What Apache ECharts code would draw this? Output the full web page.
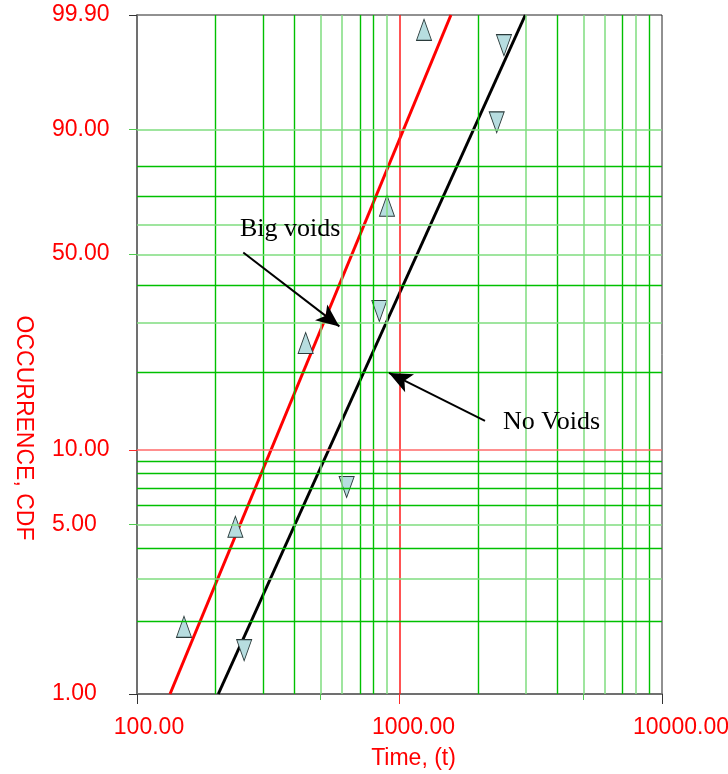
<!DOCTYPE html>
<html><head><meta charset="utf-8">
<script src="https://cdn.jsdelivr.net/npm/echarts@6/dist/echarts.min.js"></script>
<style>html,body{margin:0;padding:0;background:#fff}#c{width:728px;height:774px}</style>
</head><body><div id="c"></div>
<script>
// ---- data (time in hours, occurrence CDF in %) ----
const bigVoidsTime = [151, 237, 439, 896, 1240];
const bigVoidsCdf  = [1.9, 4.9, 25.5, 66.8, 99.75];
const noVoidsTime  = [256, 629, 838, 2346, 2500];
const noVoidsCdf   = [1.52, 7.1, 33.0, 91.46, 99.43];
const bigFitTime = [133.6, 1570];
const bigFitCdf  = [1.0, 99.9];
const noFitTime  = [204, 3015];
const noFitCdf   = [1.0, 99.9];
const xTickLabels = [100, 1000, 10000];
const yTickLabels = [1, 5, 10, 50, 90, 99.9];
const xGridValues = [200, 300, 400, 500, 600, 700, 800, 900, 1000, 2000, 3000, 4000, 5000, 6000, 7000, 8000, 9000];
const yGridValues = [2, 3, 4, 5, 6, 7, 8, 9, 10, 20, 30, 40, 50, 60, 70, 80, 90];
const annotationText = ['Big voids', 'No Voids'];
const bigArrowTime = [254, 590];
const bigArrowCdf  = [50.5, 29.2];
const noArrowTime  = [2117, 912];
const noArrowCdf   = [13.0, 19.8];

// ---- scales: log time, Weibull probability ----
const tx = t => Math.log10(t);
const fy = p => Math.log(-Math.log(1 - p / 100));
const xMin = tx(xTickLabels[0]), xMax = tx(xTickLabels[xTickLabels.length - 1]);
const yMin = fy(yTickLabels[0]), yMax = fy(yTickLabels[yTickLabels.length - 1]);

const FONT = '"Liberation Sans", Arial, sans-serif';
const SERIF = '"Liberation Serif", "Times New Roman", serif';
const RED = '#ff0000';
const DARK_G = '#00c000', LIGHT_G = '#7fdc7f';
const lightX = new Set([500, 600, 900, 3000, 5000, 6000, 8000]);
const lightY = new Set([90, 60, 50, 30, 5, 3]);

const gridLines = [];
xGridValues.forEach(v => {
  const isRed = v === 1000;
  gridLines.push({ xAxis: tx(v), lineStyle: { color: isRed ? '#ff1a1a' : (lightX.has(v) ? LIGHT_G : DARK_G), width: isRed ? 1.5 : (lightX.has(v) ? 1.5 : 1.4), type: 'solid' } });
});
yGridValues.forEach(v => {
  const isRed = v === 10;
  gridLines.push({ yAxis: fy(v), lineStyle: { color: isRed ? '#ff6a6a' : (lightY.has(v) ? LIGHT_G : DARK_G), width: isRed ? 1.5 : (lightY.has(v) ? 1.5 : 1.4), type: 'solid' } });
});

const xPads = [24, 28, 38];
const xRich = {};
xPads.forEach((p, i) => { xRich['p' + i] = { padding: [0, 0, 0, p], fontSize: 23, fontFamily: FONT, color: RED }; });

function axisCommon(extra) {
  return Object.assign({
    type: 'value', splitLine: { show: false },
    axisLine: { show: false, onZero: false },
    axisLabel: { show: false }, axisTick: { show: false }
  }, extra);
}

const xAxes = [
  axisCommon({
    min: xMin, max: xMax, position: 'bottom',
    axisLine: { show: true, onZero: false, lineStyle: { color: '#707070', width: 2 } },
    axisTick: { show: true, customValues: [xMin, xMax], length: 10, inside: false, lineStyle: { color: '#333', width: 1 } },
    axisLabel: {
      show: true, customValues: xTickLabels.map(tx), margin: 22,
      formatter: v => { const t = Math.round(Math.pow(10, v)); const i = xTickLabels.indexOf(t); return '{p' + i + '|' + t.toFixed(2) + '}'; },
      rich: xRich, fontSize: 23, fontFamily: FONT, color: RED
    },
    name: 'Time, (t)', nameLocation: 'middle', nameGap: 53,
    nameTextStyle: { color: RED, fontSize: 23, fontFamily: FONT, padding: [0, 0, 0, 28] }
  }),
  axisCommon({ min: xMin, max: xMax, position: 'bottom',
    axisTick: { show: true, customValues: [tx(500), tx(5000)], length: 6, lineStyle: { color: '#50cc50', width: 1 } } }),
  axisCommon({ min: xMin, max: xMax, position: 'bottom',
    axisTick: { show: true, customValues: [tx(1000)], length: 10, lineStyle: { color: '#ff2a2a', width: 1 } } })
];

const yAxes = [
  axisCommon({
    min: yMin, max: yMax, position: 'left',
    axisLine: { show: true, onZero: false, lineStyle: { color: '#707070', width: 2 } },
    axisTick: { show: true, customValues: [yMin, yMax], length: 8, lineStyle: { color: '#333', width: 1 } },
    axisLabel: {
      show: true, customValues: yTickLabels.map(fy), align: 'left', margin: 85,
      formatter: v => (100 * (1 - Math.exp(-Math.exp(v)))).toFixed(2),
      fontSize: 23, fontFamily: FONT, color: RED
    },
    name: 'OCCURRENCE, CDF', nameLocation: 'middle', nameRotate: -90, nameGap: 102,
    nameTextStyle: { color: RED, fontSize: 23, fontFamily: FONT, padding: [0, 0, 0, 147] }
  }),
  axisCommon({ min: yMin, max: yMax, position: 'left',
    axisTick: { show: true, customValues: [fy(5), fy(50), fy(90)], length: 8, lineStyle: { color: '#50cc50', width: 1 } } }),
  axisCommon({ min: yMin, max: yMax, position: 'left',
    axisTick: { show: true, customValues: [fy(10)], length: 8, lineStyle: { color: '#ff2a2a', width: 1 } } })
];

const pts = (ts, ps) => ts.map((t, i) => [tx(t), fy(ps[i])]);
const bigArrow = pts(bigArrowTime, bigArrowCdf);
const noArrow = pts(noArrowTime, noArrowCdf);
const arrowEnd = { symbol: 'arrow', symbolSize: [15, 23] };

const option = {
  animation: false,
  backgroundColor: '#fff',
  grid: { left: 137, top: 15, width: 525, height: 679, show: true, borderColor: '#222', borderWidth: 1,
          backgroundColor: 'transparent', containLabel: false, outerBoundsMode: 'none' },
  xAxis: xAxes,
  yAxis: yAxes,
  series: [
    { type: 'line', data: [], silent: true, z: 1, xAxisIndex: 0, yAxisIndex: 0,
      markLine: { silent: true, symbol: 'none', animation: false, label: { show: false }, data: gridLines } },
    { type: 'line', name: 'Big voids fit', data: pts(bigFitTime, bigFitCdf), symbol: 'none', z: 3,
      lineStyle: { color: '#ff0000', width: 3 } },
    { type: 'line', name: 'No voids fit', data: pts(noFitTime, noFitCdf), symbol: 'none', z: 3,
      lineStyle: { color: '#000000', width: 3 } },
    { type: 'scatter', name: 'Big voids', data: pts(bigVoidsTime, bigVoidsCdf), symbol: 'triangle', symbolSize: [15, 21], z: 4,
      itemStyle: { color: '#b7dde0', borderColor: '#2b3b3b', borderWidth: 1, opacity: 1 } },
    { type: 'scatter', name: 'No voids', data: pts(noVoidsTime, noVoidsCdf), symbol: 'triangle', symbolRotate: 180, symbolSize: [15, 21], z: 4,
      itemStyle: { color: '#b7dde0', borderColor: '#2b3b3b', borderWidth: 1, opacity: 1 } },
    { type: 'line', data: [], silent: true, z: 5, color: '#000',
      markLine: { silent: true, animation: false, label: { show: false },
        symbol: ['none', 'arrow'], symbolSize: 20,
        lineStyle: { color: '#000', width: 2, type: 'solid' },
        itemStyle: { color: '#000' },
        data: [
          [{ coord: bigArrow[0], symbol: 'none' }, Object.assign({ coord: bigArrow[1] }, arrowEnd)],
          [{ coord: noArrow[0], symbol: 'none' }, Object.assign({ coord: noArrow[1] }, arrowEnd)]
        ] } }
  ],
  graphic: [
    { type: 'text', left: 240, top: 216, z: 10, style: { text: annotationText[0], font: '26px ' + SERIF, fill: '#000' } },
    { type: 'text', left: 503, top: 409, z: 10, style: { text: annotationText[1], font: '26px ' + SERIF, fill: '#000' } }
  ]
};

const chart = echarts.init(document.getElementById('c'), null, { renderer: 'canvas' });
chart.setOption(option);
</script>
</body></html>
